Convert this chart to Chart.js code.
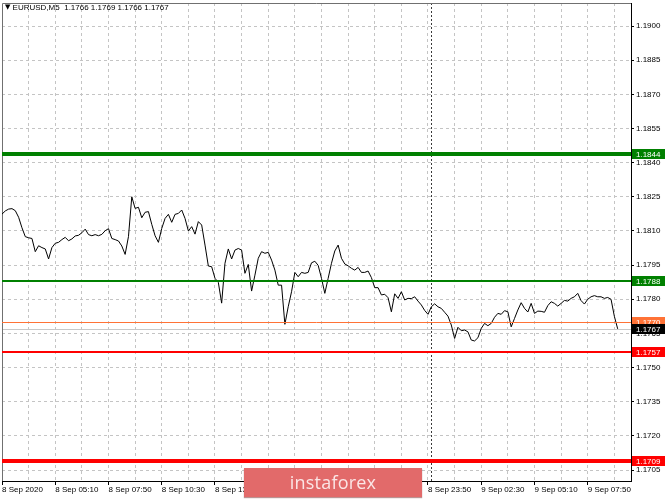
<!DOCTYPE html>
<html>
<head>
<meta charset="utf-8">
<script src="https://cdn.jsdelivr.net/npm/chart.js@4.4.1/dist/chart.umd.min.js"></script>
<style>
  html, body { margin: 0; padding: 0; background: #fff; }
  #wrap { position: relative; width: 665px; height: 499px; overflow: hidden; }
  #c { position: absolute; left: 0; top: 0; }
  #head { position: absolute; left: 5px; top: 3px; font: 8px "Liberation Sans", sans-serif; color: #000; white-space: pre; }
  #head .tri { font: 7px "DejaVu Sans", sans-serif; position: relative; top: -1px; }
  #mark { position: absolute; left: 244px; top: 468px; width: 178px; height: 29px; background: #e26a6a;
          box-shadow: 0 1px 1px rgba(120,40,40,.5); color: #fbe6e6; text-align: center;
          font: 18px/28px "Open Sans", sans-serif; letter-spacing: 0.2px; }
</style>
</head>
<body>
<div id="wrap">
  <canvas id="c" width="665" height="499"></canvas>
  <div id="head"></div>
  <div id="mark">instaforex</div>
</div>
<script>
(function () {
  'use strict';

  // ------------------------------------------------------------- data ----
  const SYMBOL = 'EURUSD,M5';
  const OHLC = ['1.1766', '1.1769', '1.1766', '1.1767'];

  // one close every 10 minutes, 8 Sep 02:30 onward
  const PRICES = [
    1.18174, 1.18188, 1.18196, 1.18198, 1.18189, 1.18160, 1.18114, 1.18075, 1.18070, 1.18067,
    1.18009, 1.18035, 1.18027, 1.18021, 1.17977, 1.18027, 1.18046, 1.18050, 1.18062, 1.18072,
    1.18057, 1.18065, 1.18078, 1.18081, 1.18092, 1.18108, 1.18084, 1.18079, 1.18084, 1.18079,
    1.18085, 1.18101, 1.18110, 1.18067, 1.18062, 1.18056, 1.18034, 1.17997, 1.18075, 1.18250,
    1.18199, 1.18204, 1.18158, 1.18182, 1.18185, 1.18129, 1.18079, 1.18050, 1.18111, 1.18155,
    1.18173, 1.18138, 1.18173, 1.18177, 1.18192, 1.18155, 1.18100, 1.18119, 1.18086, 1.18141,
    1.18126, 1.18038, 1.17946, 1.17943, 1.17892, 1.17874, 1.17783, 1.17958, 1.18021, 1.17977,
    1.18016, 1.18023, 1.18016, 1.17914, 1.17953, 1.17836, 1.17906, 1.17980, 1.18009, 1.18002,
    1.18006, 1.17972, 1.17928, 1.17862, 1.17862, 1.17690, 1.17767, 1.17833, 1.17918, 1.17899,
    1.17918, 1.17914, 1.17918, 1.17960, 1.17967, 1.17949, 1.17892, 1.17826, 1.17892, 1.17958,
    1.18012, 1.18038, 1.17980, 1.17955, 1.17947, 1.17936, 1.17928, 1.17940, 1.17918, 1.17918,
    1.17924, 1.17895, 1.17851, 1.17851, 1.17819, 1.17822, 1.17807, 1.17745, 1.17824, 1.17804,
    1.17833, 1.17797, 1.17804, 1.17803, 1.17811, 1.17792, 1.17775, 1.17751, 1.17734, 1.17767,
    1.17780, 1.17767, 1.17760, 1.17743, 1.17726, 1.17687, 1.17628, 1.17677, 1.17662, 1.17665,
    1.17657, 1.17621, 1.17617, 1.17631, 1.17672, 1.17694, 1.17684, 1.17694, 1.17721, 1.17738,
    1.17734, 1.17750, 1.17745, 1.17679, 1.17716, 1.17753, 1.17785, 1.17760, 1.17744, 1.17782,
    1.17738, 1.17748, 1.17747, 1.17743, 1.17772, 1.17789, 1.17782, 1.17770, 1.17782, 1.17795,
    1.17792, 1.17804, 1.17811, 1.17826, 1.17794, 1.17779, 1.17800, 1.17811, 1.17816, 1.17811,
    1.17811, 1.17804, 1.17808, 1.17800, 1.17725, 1.17670,
  ];

  const SLOTS = 190;          // visible 10-minute slots incl. right margin
  const LABEL_EVERY = 16;     // 160 minutes
  const GRID_EVERY = 8;
  const TIME_LABELS = ['8 Sep 2020', '8 Sep 05:10', '8 Sep 07:50', '8 Sep 10:30', '8 Sep 13:10',
    '8 Sep 15:50', '8 Sep 18:30', '8 Sep 21:10', '8 Sep 23:50', '9 Sep 02:30', '9 Sep 05:10', '9 Sep 07:50'];
  const DAY_BREAK = 129;      // slot of 9 Sep 00:00

  const Y_MIN = 1.17002, Y_MAX = 1.19101;
  const Y_TICKS = [1.1705, 1.1720, 1.1735, 1.1750, 1.1765, 1.1780, 1.1795,
    1.1810, 1.1825, 1.1840, 1.1855, 1.1870, 1.1885, 1.1900];

  const LEVEL_PRICES = [1.1844, 1.1788, 1.1770, 1.1757, 1.1709];
  const LEVEL_COLORS = ['#008000', '#008000', '#ff7236', '#ff0000', '#ff0000'];
  const LEVEL_WIDTHS = [4, 2, 1, 2, 4];
  const LAST_PRICE = 1.1767;

  const FONT = { family: '"Liberation Sans", sans-serif', size: 8 };
  const FONT_CSS = '8px "Liberation Sans", sans-serif';
  const GRID = '#c4c4c4';
  const NONE = 'rgba(0,0,0,0)';

  document.getElementById('head').innerHTML =
    '<span class="tri">\u25BC</span> ' + SYMBOL + '  ' + OHLC.join(' ');

  const slotLabels = [];
  for (let i = 0; i < SLOTS; i++) {
    slotLabels.push(i % LABEL_EVERY === 0 ? (TIME_LABELS[i / LABEL_EVERY] || '') : '');
  }

  // chart area must not grow extra room for edge labels
  const noEdgePad = s => { s.paddingTop = 0; s.paddingBottom = 0; s.paddingLeft = 0; s.paddingRight = 0; };

  // -------------------------------------------------------- overlays ----
  const crisp = v => Math.round(v) + 0.5;

  const overlays = {
    id: 'overlays',
    beforeDatasetsDraw(chart) {
      const { ctx, chartArea: a, scales: { x, y } } = chart;
      ctx.save();
      ctx.lineWidth = 1;
      // bid line
      const by = crisp(y.getPixelForValue(LAST_PRICE));
      ctx.strokeStyle = '#c8c8c8';
      ctx.beginPath(); ctx.moveTo(a.left, by); ctx.lineTo(a.right, by); ctx.stroke();
      // day separator
      const sx = crisp(x.getPixelForValue(DAY_BREAK));
      ctx.strokeStyle = '#3a3a3a';
      ctx.setLineDash([2, 2]);
      ctx.beginPath(); ctx.moveTo(sx, a.top); ctx.lineTo(sx, a.bottom); ctx.stroke();
      ctx.setLineDash([]);
      // frame top / left
      ctx.strokeStyle = '#707070';
      ctx.beginPath();
      ctx.moveTo(crisp(a.left), a.bottom); ctx.lineTo(crisp(a.left), crisp(a.top)); ctx.lineTo(a.right, crisp(a.top));
      ctx.stroke();
      ctx.restore();
    },
    afterDatasetsDraw(chart) {
      const { ctx, chartArea: a, scales: { y } } = chart;
      ctx.save();
      ctx.font = FONT_CSS;
      ctx.textBaseline = 'middle';
      const box = (price, color, text) => {
        const py = Math.round(y.getPixelForValue(price));
        ctx.fillStyle = color;
        ctx.fillRect(a.right + 1, py - 5, chart.width - a.right - 1, 10);
        ctx.fillStyle = text;
        ctx.fillText(price.toFixed(4), a.right + 5, py + 0.5);
      };
      LEVEL_PRICES.forEach((p, i) => {
        const w = LEVEL_WIDTHS[i];
        const py = w % 2 ? crisp(y.getPixelForValue(p)) : Math.round(y.getPixelForValue(p));
        ctx.strokeStyle = LEVEL_COLORS[i];
        ctx.lineWidth = w;
        ctx.beginPath(); ctx.moveTo(a.left, py); ctx.lineTo(a.right, py); ctx.stroke();
      });
      LEVEL_PRICES.forEach((p, i) => box(p, LEVEL_COLORS[i], '#fff'));
      box(LAST_PRICE, '#000', '#fff');
      ctx.restore();
    },
  };

  // ----------------------------------------------------------- chart ----
  new Chart(document.getElementById('c'), {
    type: 'line',
    data: {
      labels: slotLabels,
      datasets: [{
        data: PRICES, borderColor: '#000', borderWidth: 1,
        pointRadius: 0, tension: 0, fill: false,
      }],
    },
    options: {
      responsive: false, animation: false, devicePixelRatio: 1,
      layout: { padding: { left: 2, top: 3, right: 0, bottom: 0 } },
      plugins: { legend: { display: false }, tooltip: { enabled: false } },
      scales: {
        x: {
          type: 'category', offset: false,
          afterFit: s => { s.height = 18; noEdgePad(s); },
          grid: {
            color: c => (c.index % GRID_EVERY === 0 && c.index > 0) ? GRID : NONE,
            tickColor: c => c.index % LABEL_EVERY === 0 ? '#000' : NONE,
            tickLength: 4, tickBorderDash: [],
          },
          border: { display: true, color: '#000', width: 1, dash: [3, 3] },
          ticks: {
            autoSkip: false, maxRotation: 0, minRotation: 0, align: 'start',
            padding: 0, color: '#000', font: FONT,
          },
        },
        y: {
          position: 'right', min: Y_MIN, max: Y_MAX,
          afterBuildTicks: s => { s.ticks = Y_TICKS.map(v => ({ value: v })); },
          afterFit: s => { s.width = 34; noEdgePad(s); },
          grid: { color: GRID, tickColor: '#000', tickLength: 3, tickBorderDash: [] },
          border: { display: true, color: '#000', width: 1, dash: [3, 3] },
          ticks: { color: '#000', font: FONT, padding: 2, callback: v => v.toFixed(4) },
        },
      },
    },
    plugins: [overlays],
  });
})();
</script>
</body>
</html>
